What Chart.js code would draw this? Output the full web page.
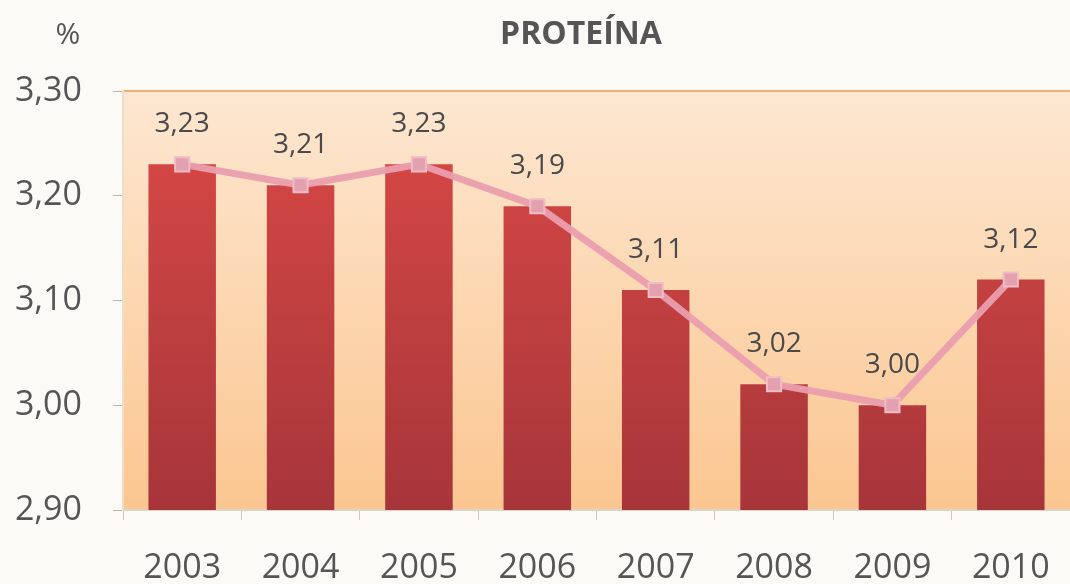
<!DOCTYPE html>
<html>
<head>
  <meta charset="UTF-8">
  <title>Proteína</title>
  <script src="https://cdn.jsdelivr.net/npm/chart.js"></script>
  <style>
    body {
      margin: 0;
      padding: 0;
      overflow: hidden;
      background-color: #fbfaf7;
    }
    #chart-container {
      width: 1070px;
      height: 584px;
    }
  </style>
</head>
<body>
  <div id="chart-container">
    <canvas id="proteinChart"></canvas>
  </div>

  <script>
    // data
    var years = ['2003', '2004', '2005', '2006', '2007', '2008', '2009', '2010'];
    var protein = [3.23, 3.21, 3.23, 3.19, 3.11, 3.02, 3.00, 3.12];
    var yTicks = [2.90, 3.00, 3.10, 3.20, 3.30];

    function comma(v, digits) {
      return v.toFixed(digits).replace('.', ',');
    }

    // background of the plot area + title + value labels
    var decorPlugin = {
      id: 'decor',
      beforeDraw: function (chart) {
        var ctx = chart.ctx;
        var a = chart.chartArea;
        var g = ctx.createLinearGradient(0, a.top, 0, a.bottom);
        g.addColorStop(0, '#fde7d1');
        g.addColorStop(1, '#fbc690');
        ctx.save();
        ctx.fillStyle = g;
        ctx.fillRect(a.left, a.top, a.right - a.left, a.bottom - a.top);
        // top border
        ctx.strokeStyle = '#efb276';
        ctx.lineWidth = 2;
        ctx.beginPath();
        ctx.moveTo(a.left, a.top);
        ctx.lineTo(a.right, a.top);
        ctx.stroke();
        ctx.restore();
      },
      afterDraw: function (chart) {
        var ctx = chart.ctx;
        ctx.save();
        ctx.fillStyle = '#555';
        ctx.textAlign = 'center';
        ctx.textBaseline = 'middle';
        ctx.font = 'bold 32px "Open Sans"';
        ctx.fillText('PROTEÍNA', 581, 35);
        ctx.font = '30px "Open Sans"';
        ctx.fillText('%', 68, 35);

        var meta = chart.getDatasetMeta(0);
        ctx.font = '28px "Open Sans"';
        ctx.fillStyle = '#4a4a4a';
        meta.data.forEach(function (pt, i) {
          ctx.fillText(comma(protein[i], 2), pt.x, pt.y - 40);
        });
        ctx.restore();
      }
    };

    var ctx = document.getElementById('proteinChart').getContext('2d');
    var proteinChart = new Chart(ctx, {
      type: 'bar',
      data: {
        labels: years,
        datasets: [
          {
            type: 'line',
            label: 'linha',
            data: protein,
            borderColor: 'rgba(234, 158, 174, 0.95)',
            borderWidth: 7,
            pointStyle: 'rect',
            pointRadius: 10,
            pointBackgroundColor: '#e3a0af',
            pointBorderColor: '#f0bcc6',
            pointBorderWidth: 2,
            tension: 0,
            order: 0
          },
          {
            label: 'Proteína',
            data: protein,
            backgroundColor: function (c) {
              var a = c.chart.chartArea;
              if (!a) return '#c03c3d';
              var g = c.chart.ctx.createLinearGradient(0, a.top, 0, a.bottom);
              g.addColorStop(0, '#dc4a46');
              g.addColorStop(1, '#a6353a');
              return g;
            },
            barPercentage: 0.57,
            categoryPercentage: 1,
            order: 1
          }
        ]
      },
      options: {
        responsive: true,
        maintainAspectRatio: false,
        animation: false,
        layout: {
          autoPadding: false,
          padding: { top: 91, right: 0, bottom: 0, left: 0 }
        },
        plugins: {
          legend: { display: false },
          tooltip: { enabled: false }
        },
        scales: {
          x: {
            afterFit: function (scale) {
              scale.height = 74;
              scale.paddingLeft = 0;
              scale.paddingRight = 0;
            },
            grid: {
              offset: true,
              drawOnChartArea: false,
              tickLength: 10,
              color: '#cfc8c0'
            },
            border: { color: '#ddd3c8', width: 2 },
            ticks: {
              color: '#555',
              padding: 28,
              font: { family: '"Open Sans"', size: 34 }
            }
          },
          y: {
            min: 2.90,
            max: 3.30,
            afterFit: function (scale) { scale.width = 123; },
            afterBuildTicks: function (scale) {
              scale.ticks = yTicks.map(function (v) { return { value: v }; });
            },
            grid: {
              drawOnChartArea: false,
              tickLength: 10,
              color: '#bdb6ae'
            },
            border: { color: '#f1dcc6', width: 2 },
            ticks: {
              color: '#555',
              padding: 31,
              font: { family: '"Open Sans"', size: 34 },
              callback: function (v) { return comma(v, 2); }
            }
          }
        }
      },
      plugins: [decorPlugin]
    });
  </script>
</body>
</html>
